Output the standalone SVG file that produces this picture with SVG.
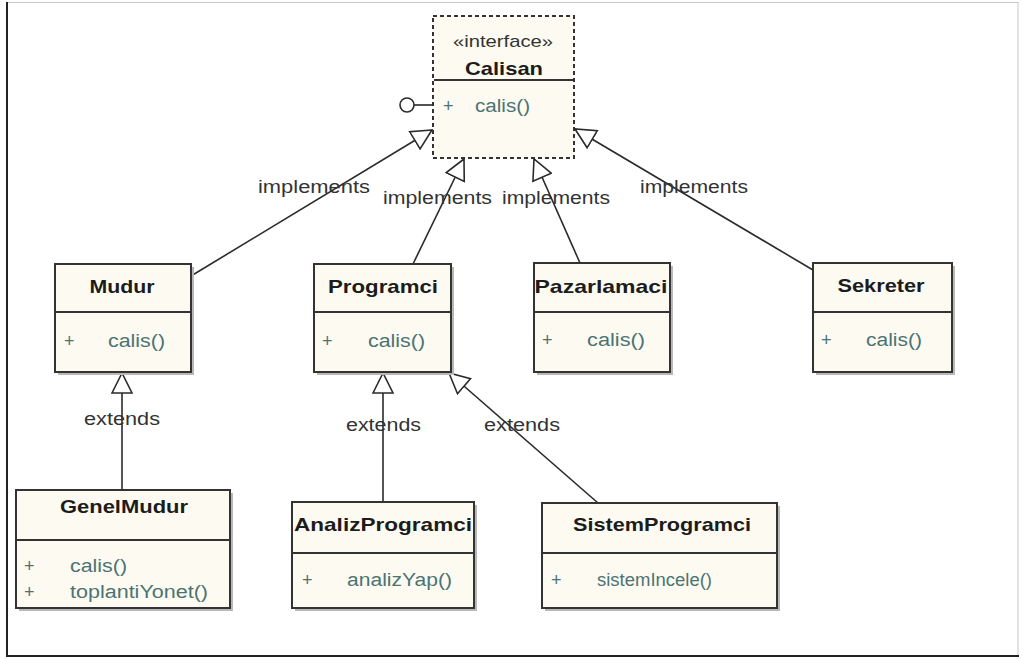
<svg xmlns="http://www.w3.org/2000/svg" width="1023" height="659" viewBox="0 0 1023 659">
<defs>
<marker id="tri" viewBox="0 0 22 22" refX="21" refY="11" markerWidth="22" markerHeight="22" markerUnits="userSpaceOnUse" orient="auto">
<path d="M21,11 L1,1 L1,21 Z" fill="#fff" stroke="#2a2a2a" stroke-width="1.6"/>
</marker>
</defs>
<style>
.box{fill:#fdfbf1;stroke:#333;stroke-width:2}
.shadow{fill:#b8b8b8}
.sep{stroke:#333;stroke-width:2}
.name{font-family:"Liberation Sans",Arial,sans-serif;font-weight:bold;font-size:19px;fill:#1c1c1c;text-anchor:middle}
.op{font-family:"Liberation Sans",Arial,sans-serif;font-size:18px;fill:#4b7373}
.lbl{font-family:"Liberation Sans",Arial,sans-serif;font-size:18px;fill:#333}
.edge{stroke:#2a2a2a;stroke-width:1.6;fill:none;marker-end:url(#tri)}
</style>
<rect x="0" y="0" width="1023" height="659" fill="#fff"/>
<rect x="7" y="2.5" width="1011" height="653" fill="#fff" stroke="#c8c8c8" stroke-width="1"/>
<line x1="7" y1="2" x2="7" y2="657" stroke="#222" stroke-width="2"/>
<line x1="6" y1="656" x2="1019" y2="656" stroke="#222" stroke-width="2"/>

<g id="connectors">
<line class="edge" x1="191" y1="276" x2="432" y2="130"/>
<line class="edge" x1="413" y1="264" x2="464" y2="159"/>
<line class="edge" x1="580" y1="263" x2="534" y2="159"/>
<line class="edge" x1="813" y1="270" x2="575" y2="129"/>
<line class="edge" x1="122" y1="490" x2="122" y2="373"/>
<line class="edge" x1="383" y1="502" x2="383" y2="373"/>
<line class="edge" x1="598" y1="503" x2="449" y2="373"/>
<line x1="414" y1="105" x2="433" y2="105" stroke="#2a2a2a" stroke-width="1.6"/>
<circle cx="407" cy="105" r="7" fill="#fff" stroke="#2a2a2a" stroke-width="1.6"/>
<text class="lbl" x="258" y="193" textLength="112" lengthAdjust="spacingAndGlyphs">implements</text>
<text class="lbl" x="383" y="204" textLength="109" lengthAdjust="spacingAndGlyphs">implements</text>
<text class="lbl" x="502" y="204" textLength="108" lengthAdjust="spacingAndGlyphs">implements</text>
<text class="lbl" x="640" y="193" textLength="108" lengthAdjust="spacingAndGlyphs">implements</text>
<text class="lbl" x="84" y="425" textLength="76" lengthAdjust="spacingAndGlyphs">extends</text>
<text class="lbl" x="346" y="431" textLength="75" lengthAdjust="spacingAndGlyphs">extends</text>
<text class="lbl" x="484" y="431" textLength="76" lengthAdjust="spacingAndGlyphs">extends</text>
</g>

<g id="Calisan">
<rect x="433" y="16" width="141" height="142" fill="#fdfbf1" stroke="#333" stroke-width="2" stroke-dasharray="4,3"/>
<line class="sep" x1="434" y1="80" x2="573" y2="80"/>
<text x="503" y="47" font-family="Liberation Sans, Arial, sans-serif" font-size="17" fill="#333" text-anchor="middle" textLength="100" lengthAdjust="spacingAndGlyphs">«interface»</text>
<text class="name" x="504" y="75" textLength="78" lengthAdjust="spacingAndGlyphs">Calisan</text>
<text class="op" x="443" y="112">+</text>
<text class="op" x="475" y="112" textLength="55" lengthAdjust="spacingAndGlyphs">calis()</text>
</g>

<g id="Mudur">
<rect class="shadow" x="58" y="267" width="136" height="108"/>
<rect class="box" x="55" y="264" width="136" height="108"/>
<line class="sep" x1="55" y1="312" x2="191" y2="312"/>
<text class="name" x="122" y="293" textLength="65" lengthAdjust="spacingAndGlyphs">Mudur</text>
<text class="op" x="64" y="347">+</text>
<text class="op" x="108" y="347" textLength="57" lengthAdjust="spacingAndGlyphs">calis()</text>
</g>

<g id="Programci">
<rect class="shadow" x="317" y="267" width="137" height="108"/>
<rect class="box" x="314" y="264" width="137" height="108"/>
<line class="sep" x1="314" y1="312" x2="451" y2="312"/>
<text class="name" x="383" y="293" textLength="110" lengthAdjust="spacingAndGlyphs">Programci</text>
<text class="op" x="322" y="347">+</text>
<text class="op" x="368" y="347" textLength="57" lengthAdjust="spacingAndGlyphs">calis()</text>
</g>

<g id="Pazarlamaci">
<rect class="shadow" x="537" y="266" width="136" height="109"/>
<rect class="box" x="534" y="263" width="136" height="109"/>
<line class="sep" x1="534" y1="312" x2="670" y2="312"/>
<text class="name" x="601" y="293" textLength="133" lengthAdjust="spacingAndGlyphs">Pazarlamaci</text>
<text class="op" x="542" y="346">+</text>
<text class="op" x="587" y="346" textLength="58" lengthAdjust="spacingAndGlyphs">calis()</text>
</g>

<g id="Sekreter">
<rect class="shadow" x="816" y="266" width="139" height="109"/>
<rect class="box" x="813" y="263" width="139" height="109"/>
<line class="sep" x1="813" y1="312" x2="952" y2="312"/>
<text class="name" x="881" y="292" textLength="87" lengthAdjust="spacingAndGlyphs">Sekreter</text>
<text class="op" x="821" y="346">+</text>
<text class="op" x="866" y="346" textLength="56" lengthAdjust="spacingAndGlyphs">calis()</text>
</g>

<g id="GenelMudur">
<rect class="shadow" x="19" y="493" width="214" height="118"/>
<rect class="box" x="16" y="490" width="214" height="118"/>
<line class="sep" x1="16" y1="540" x2="230" y2="540"/>
<text class="name" x="124" y="513" textLength="128" lengthAdjust="spacingAndGlyphs">GenelMudur</text>
<text class="op" x="24" y="572">+</text>
<text class="op" x="70" y="572" textLength="57" lengthAdjust="spacingAndGlyphs">calis()</text>
<text class="op" x="24" y="598">+</text>
<text class="op" x="70" y="598" textLength="138" lengthAdjust="spacingAndGlyphs">toplantiYonet()</text>
</g>

<g id="AnalizProgramci">
<rect class="shadow" x="295" y="505" width="182" height="106"/>
<rect class="box" x="292" y="502" width="182" height="106"/>
<line class="sep" x1="292" y1="553" x2="474" y2="553"/>
<text class="name" x="383" y="531" textLength="178" lengthAdjust="spacingAndGlyphs">AnalizProgramci</text>
<text class="op" x="302" y="586">+</text>
<text class="op" x="347" y="586" textLength="105" lengthAdjust="spacingAndGlyphs">analizYap()</text>
</g>

<g id="SistemProgramci">
<rect class="shadow" x="545" y="506" width="235" height="105"/>
<rect class="box" x="542" y="503" width="235" height="105"/>
<line class="sep" x1="542" y1="553" x2="777" y2="553"/>
<text class="name" x="662" y="531" textLength="178" lengthAdjust="spacingAndGlyphs">SistemProgramci</text>
<text class="op" x="551" y="586">+</text>
<text class="op" x="597" y="586" textLength="115" lengthAdjust="spacingAndGlyphs">sistemIncele()</text>
</g>
</svg>
